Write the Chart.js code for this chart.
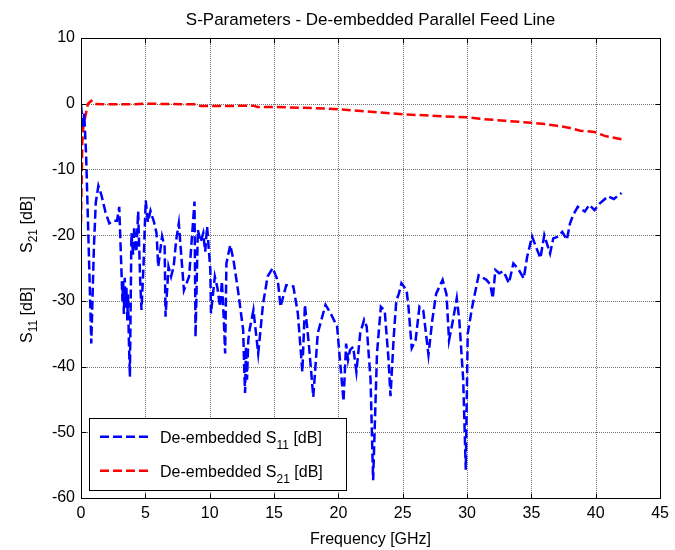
<!DOCTYPE html>
<html><head><meta charset="utf-8">
<script src="https://cdn.jsdelivr.net/npm/chart.js@4.4.0/dist/chart.umd.min.js"></script>
<style>html,body{margin:0;padding:0;background:#fff}#wrap{width:675px;height:550px}</style>
</head><body><div id="wrap"><canvas id="c" width="675" height="550"></canvas></div>
<script>
const titleText = "S-Parameters - De-embedded Parallel Feed Line";
const xTitle = "Frequency [GHz]";
const xTicks = [0,5,10,15,20,25,30,35,40,45];
const yTicks = [-60,-50,-40,-30,-20,-10,0,10];

const s11Freq = [0,0.15,0.25,0.4,0.6,0.8,1.0,1.15,1.35,1.6,1.9,2.2,2.5,2.8,2.97,3.15,3.22,3.28,3.33,3.4,3.47,3.53,3.6,3.65,3.72,3.8,3.92,4.05,4.13,4.3,4.44,4.6,4.7,4.85,5.03,5.2,5.4,5.67,5.87,6.0,6.3,6.5,6.57,6.8,7.0,7.2,7.4,7.6,8.0,8.4,8.82,8.9,9.08,9.3,9.5,9.65,9.8,10.05,10.1,10.4,10.6,10.8,10.95,11.1,11.2,11.3,11.6,11.85,12.2,12.6,12.68,12.75,12.82,12.9,13.0,13.1,13.4,13.77,14.15,14.5,14.9,15.3,15.5,15.95,16.5,16.85,17.2,17.4,17.7,18.05,18.4,19.0,19.4,19.9,20.4,20.6,20.75,20.9,21.15,21.4,21.7,22.0,22.2,22.5,22.7,23.0,23.3,23.6,23.9,24.05,24.3,24.5,24.7,24.9,25.3,25.45,25.7,26.0,26.3,26.6,27.0,27.3,27.6,28.1,28.4,28.6,28.9,29.2,29.4,29.7,29.9,30.05,30.4,30.9,31.5,31.8,32.0,32.2,32.5,32.8,33.0,33.25,33.6,34.0,34.4,34.67,35.05,35.3,35.7,36.0,36.45,36.7,37.1,37.4,37.75,38.0,38.25,38.6,39.15,39.5,39.9,40.3,40.6,40.95,41.4,42.0];
const s11Db = [-0.2,-3.5,-1.5,-8,-22,-36.5,-22,-15,-12.5,-14,-16.5,-18.2,-17.8,-17.8,-15.7,-25.8,-30,-27,-32,-26.5,-31,-28,-33,-29,-36,-41.5,-19.7,-23,-18.7,-22.6,-16.4,-27,-31.4,-25,-14.7,-18,-16.3,-18,-19.7,-24.8,-20.2,-21.8,-32.4,-24.8,-26.3,-24.8,-20.7,-18.2,-28.4,-26.3,-14.9,-35.5,-19.2,-21,-19.7,-22.5,-18.7,-25.3,-31.9,-26.3,-28,-30.9,-27,-33,-38,-24.3,-21.5,-23.8,-28.4,-34.4,-40,-44,-37,-42,-36,-34.4,-31.4,-38,-30.4,-26.3,-25,-27,-30.9,-27.6,-27.8,-31.9,-40.8,-30.6,-36.5,-44.6,-34.9,-30.6,-31.9,-33.9,-45.3,-36.5,-39,-37.5,-37,-40.8,-34.9,-32.9,-33.9,-42,-57.3,-38,-30.9,-31.5,-39,-44.5,-35.5,-30,-28.9,-27.3,-28.4,-31,-37.2,-36,-30.9,-31.5,-38.2,-32.9,-28.9,-26.8,-29,-36,-33,-29.6,-33,-42,-55.7,-35,-30.9,-26.1,-26.8,-27.5,-29.6,-25.3,-25.8,-25.5,-26.2,-27.3,-24.3,-25.2,-26.6,-23.3,-20.2,-21.5,-23.5,-20,-22.8,-20.5,-20.2,-19.5,-20.7,-18.2,-16.9,-15.7,-16.4,-15.4,-16.2,-15.2,-14.7,-14.1,-14.5,-13.6];

const s21Freq = [0,0.1,0.18,0.28,0.54,0.8,1.05,2,4,5,7,8.9,9.3,11,13.4,13.7,15,16,17,18,19,20,21,22,23,24,25,26,27,28,29,30,31,32,33,34,35,36,37,38,38.8,39.9,40.7,42];
const s21Db = [-18.2,-6,-3.5,-2.5,0,0.45,-0.05,-0.1,-0.1,0,-0.05,-0.1,-0.35,-0.35,-0.3,-0.5,-0.5,-0.55,-0.6,-0.65,-0.75,-0.85,-1.0,-1.15,-1.3,-1.45,-1.6,-1.7,-1.8,-1.9,-2.0,-2.05,-2.3,-2.45,-2.6,-2.75,-2.9,-3.1,-3.35,-3.7,-4.1,-4.3,-4.9,-5.4];

const FONT = '"Liberation Sans", Arial, Helvetica, sans-serif';
const toPts = (xs, ys) => xs.map((v, i) => ({x: v, y: ys[i]}));

function drawSub(ctx, parts, x, y, big, small, off){
  let cx = x;
  parts.forEach(([t, sub]) => {
    ctx.font = (sub ? small : big) + 'px ' + FONT;
    ctx.fillText(t, cx, y + (sub ? off : 0));
    cx += ctx.measureText(t).width;
  });
  return cx - x;
}

const matlab = {
  id: 'matlab',
  beforeDatasetsDraw(chart){
    const {ctx, chartArea: a, scales: {x, y}} = chart;
    ctx.save();
    ctx.strokeStyle = '#707070'; ctx.lineWidth = 1; ctx.setLineDash([1, 1]);
    xTicks.forEach(v => {
      const p = Math.round(x.getPixelForValue(v)) + 0.5;
      ctx.beginPath(); ctx.moveTo(p, a.top); ctx.lineTo(p, a.bottom); ctx.stroke();
    });
    yTicks.forEach(v => {
      const p = Math.round(y.getPixelForValue(v)) + 0.5;
      ctx.beginPath(); ctx.moveTo(a.left, p); ctx.lineTo(a.right, p); ctx.stroke();
    });
    ctx.restore();
  },
  afterDraw(chart){
    const {ctx, chartArea: a, scales: {x, y}} = chart;
    ctx.save();
    ctx.setLineDash([]);
    ctx.strokeStyle = '#000'; ctx.lineWidth = 1;
    const L = Math.round(a.left) + 0.5, R = Math.round(a.right) + 0.5;
    const T = Math.round(a.top) + 0.5, B = Math.round(a.bottom) + 0.5;
    ctx.strokeRect(L, T, R - L, B - T);
    const tl = 5;
    xTicks.forEach(v => {
      const p = Math.round(x.getPixelForValue(v)) + 0.5;
      ctx.beginPath(); ctx.moveTo(p, B); ctx.lineTo(p, B - tl); ctx.moveTo(p, T); ctx.lineTo(p, T + tl); ctx.stroke();
    });
    yTicks.forEach(v => {
      const p = Math.round(y.getPixelForValue(v)) + 0.5;
      ctx.beginPath(); ctx.moveTo(L, p); ctx.lineTo(L + tl, p); ctx.moveTo(R, p); ctx.lineTo(R - tl, p); ctx.stroke();
    });
    ctx.fillStyle = '#000';
    ctx.textAlign = 'center'; ctx.textBaseline = 'alphabetic';
    ctx.font = '17px ' + FONT;
    ctx.fillText(titleText, (a.left + a.right) / 2, 25);
    ctx.font = '16px ' + FONT;
    ctx.fillText(xTitle, (a.left + a.right) / 2, 544);
    ctx.save();
    ctx.translate(32, 343);
    ctx.rotate(-Math.PI / 2);
    ctx.textAlign = 'left';
    drawSub(ctx, [['S', 0], ['11', 1], [' [dB]', 0]], 0, 0, 16, 12, 5);
    drawSub(ctx, [['S', 0], ['21', 1], [' [dB]', 0]], 90, 0, 16, 12, 5);
    ctx.restore();
    const lx = 89.5, ly = 418.5, lw = 257, lh = 72;
    ctx.fillStyle = '#fff';
    ctx.fillRect(lx, ly, lw, lh);
    ctx.strokeStyle = '#000'; ctx.lineWidth = 1;
    ctx.strokeRect(lx, ly, lw, lh);
    const ds = chart.data.datasets;
    const rows = [[436.7, ds[0], '11'], [470.7, ds[1], '21']];
    rows.forEach(([yy, d, sub]) => {
      ctx.strokeStyle = d.borderColor; ctx.lineWidth = d.borderWidth;
      ctx.setLineDash(d.borderDash);
      ctx.beginPath(); ctx.moveTo(100, yy); ctx.lineTo(152, yy); ctx.stroke();
      ctx.setLineDash([]);
      ctx.fillStyle = '#000'; ctx.textAlign = 'left';
      drawSub(ctx, [['De-embedded S', 0], [sub, 1], [' [dB]', 0]], 160, yy + 6, 16, 12, 6);
    });
    ctx.restore();
  }
};

new Chart(document.getElementById('c'), {
  type: 'line',
  data: {
    datasets: [
      {label: 'De-embedded S11 [dB]', data: toPts(s11Freq, s11Db), borderColor: '#0000ff', borderWidth: 2.5, borderDash: [9, 4], pointRadius: 0, tension: 0, fill: false},
      {label: 'De-embedded S21 [dB]', data: toPts(s21Freq, s21Db), borderColor: '#ff0000', borderWidth: 2.5, borderDash: [9, 4], pointRadius: 0, tension: 0, fill: false}
    ]
  },
  options: {
    responsive: false, animation: false, devicePixelRatio: 1,
    layout: {padding: {left: 0, right: 9, top: 38, bottom: 0}},
    plugins: {legend: {display: false}, title: {display: false}, tooltip: {enabled: false}},
    scales: {
      x: {type: 'linear', min: 0, max: 45,
        afterFit: s => { s.height = 52; },
        afterBuildTicks: s => { s.ticks = xTicks.map(v => ({value: v})); },
        grid: {display: false, drawTicks: false}, border: {display: false},
        ticks: {color: '#000', font: {family: FONT, size: 16}, padding: 6, maxRotation: 0, autoSkip: false}},
      y: {type: 'linear', min: -60, max: 10,
        afterFit: s => { s.width = 81; },
        afterBuildTicks: s => { s.ticks = yTicks.map(v => ({value: v})); },
        grid: {display: false, drawTicks: false}, border: {display: false},
        ticks: {color: '#000', font: {family: FONT, size: 16}, padding: 6, autoSkip: false}}
    }
  },
  plugins: [matlab]
});
</script>
</body></html>
